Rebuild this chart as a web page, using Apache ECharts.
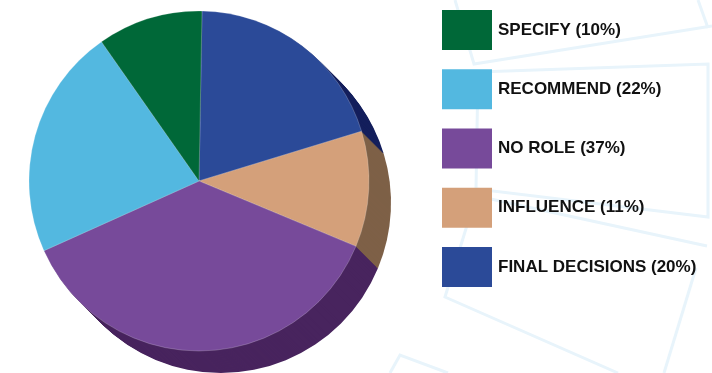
<!DOCTYPE html>
<html>
<head>
<meta charset="utf-8">
<script src="https://cdn.jsdelivr.net/npm/echarts@6/dist/echarts.min.js"></script>
<style>
html,body{margin:0;padding:0;background:#fff;}
#chart{width:712px;height:373px;}
</style>
</head>
<body>
<div id="chart"></div>
<script>
// Data (clockwise from top)
const categories = ['FINAL DECISIONS', 'INFLUENCE', 'NO ROLE', 'RECOMMEND', 'SPECIFY'];
const percentValues = [20, 11, 37, 22, 10];
const legendOrder = ['SPECIFY', 'RECOMMEND', 'NO ROLE', 'INFLUENCE', 'FINAL DECISIONS'];

const frontColors = ['#2B4A98', '#D4A07A', '#774A9A', '#53B8E0', '#006838'];
const sideColors  = ['#141F5C', '#7E6047', '#48245E', '#2A6E8C', '#003A20'];

const cx = 199, cy = 181, R = 170, depth = 22;

function makeData(colors) {
  return categories.map((c, i) => ({ name: c, value: percentValues[i], itemStyle: { color: colors[i] } }));
}

const series = [];
series.push({
  type: 'pie',
  name: 'front',
  z: 10,
  center: [cx, cy],
  radius: R,
  startAngle: 89,
  clockwise: true,
  label: { show: false },
  labelLine: { show: false },
  emphasis: { disabled: true },
  silent: true,
  itemStyle: { borderColor: 'rgba(255,255,255,0.35)', borderWidth: 0.6 },
  data: makeData(frontColors)
});
for (let i = depth; i >= 1; i--) {
  series.push({
    type: 'pie',
    name: 'side' + i,
    z: 2,
    center: [cx + i, cy + i],
    radius: R,
    startAngle: 89,
    clockwise: true,
    label: { show: false },
    labelLine: { show: false },
    emphasis: { disabled: true },
    silent: true,
    animation: false,
    itemStyle: { borderWidth: 0 },
    data: makeData(sideColors)
  });
}

const bgLine = { stroke: '#E8F4FB', lineWidth: 3, fill: null };
const bgShapes = [
  [[455,0],[474,64],[712,26]],
  [[698,0],[708,28]],
  [[478,72],[708,64],[708,217],[476,189],[478,72]],
  [[477,196],[707,246]],
  [[476,196],[445,297],[618,373]],
  [[696,268],[664,373]],
  [[390,373],[400,355],[448,373]]
];

const chart = echarts.init(document.getElementById('chart'), null, { renderer: 'canvas' });
chart.setOption({
  backgroundColor: '#ffffff',
  animation: false,
  graphic: bgShapes.map(pts => ({
    type: 'polyline', z: 0, silent: true,
    shape: { points: pts },
    style: bgLine
  })),
  legend: {
    orient: 'vertical',
    left: 442,
    top: 10,
    padding: 0,
    itemWidth: 50,
    itemHeight: 40,
    itemGap: 19.25,
    icon: 'rect',
    selectedMode: false,
    data: legendOrder,
    itemStyle: { borderWidth: 0 },
    formatter: function (name) {
      const idx = categories.indexOf(name);
      return name + ' (' + percentValues[idx] + '%)';
    },
    textStyle: {
      fontFamily: 'Liberation Sans',
      fontWeight: 'bold',
      fontSize: 17,
      color: '#111111',
      padding: [0, 0, 0, 1]
    }
  },
  series: series
});
</script>
</body>
</html>
